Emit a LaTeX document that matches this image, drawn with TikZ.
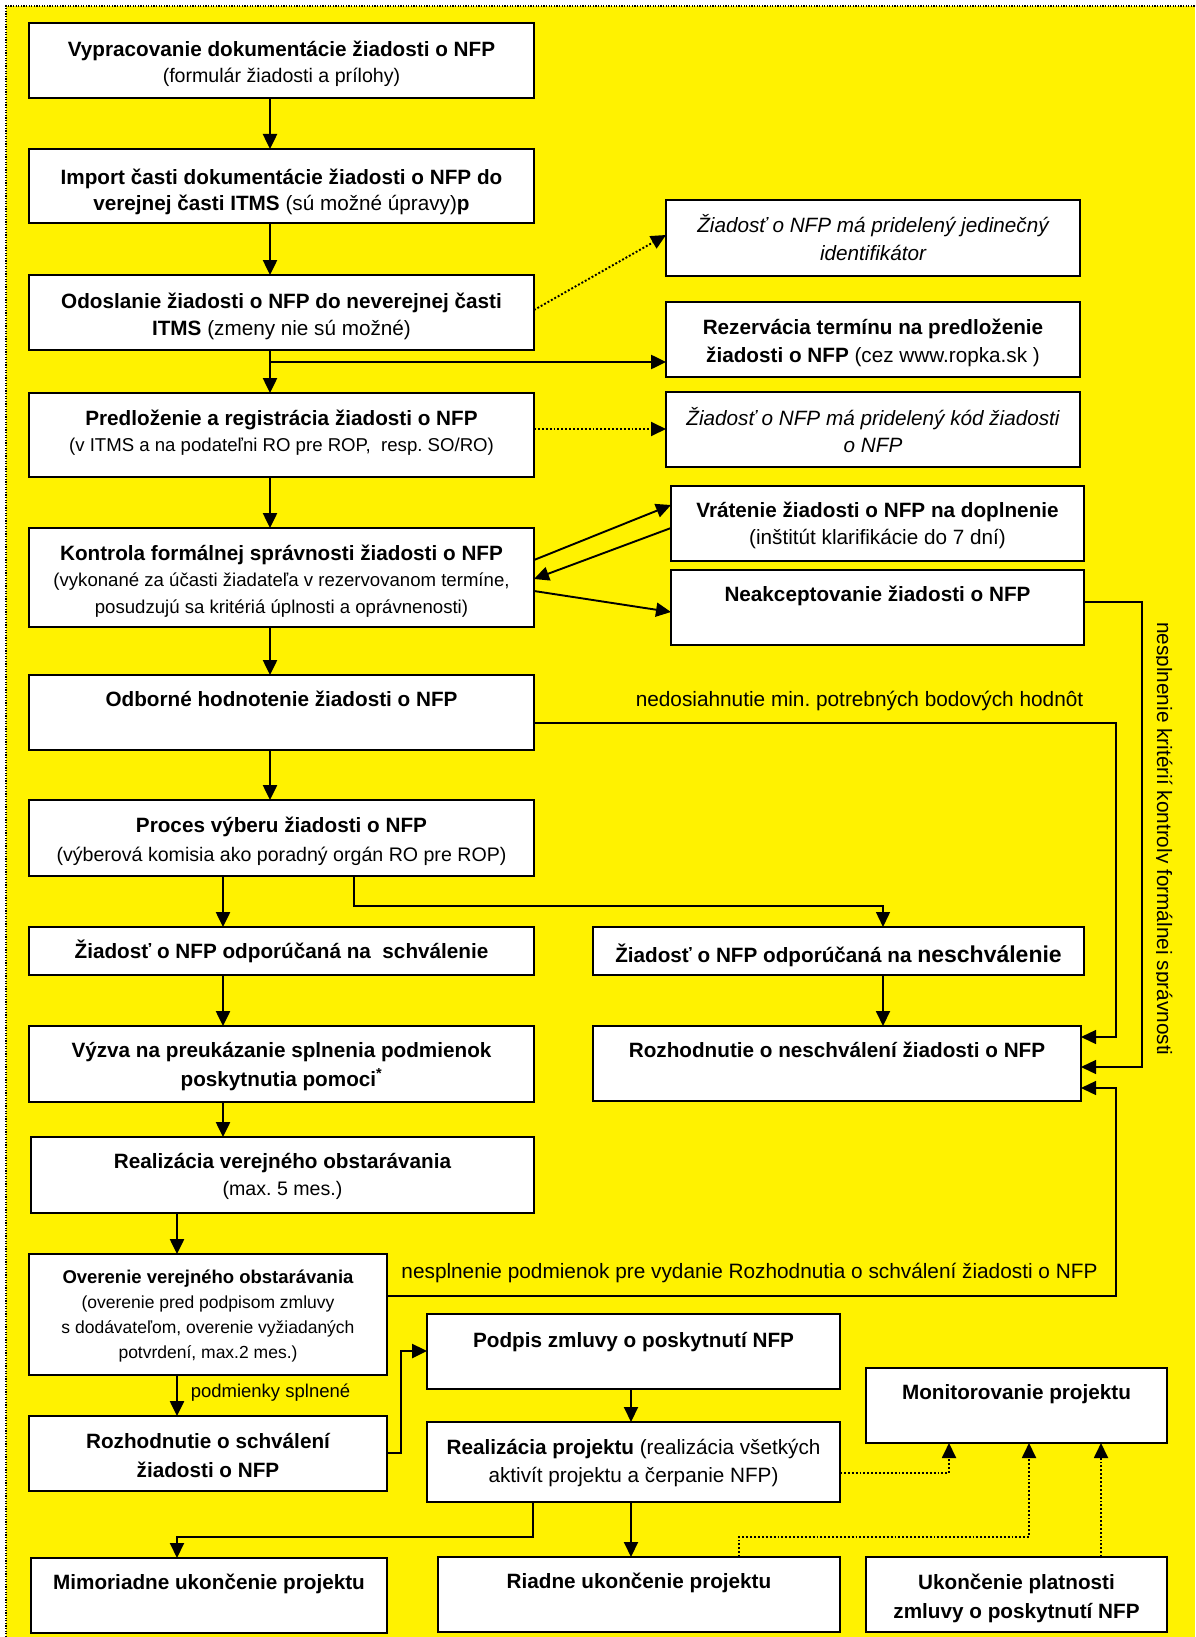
\documentclass[tikz,border=0pt]{standalone}
\usepackage{fontspec}
\setmainfont{Liberation Sans}
\usetikzlibrary{arrows.meta}
\frenchspacing
\newcommand\sz[2]{\fontsize{#1}{#2}\selectfont}
\newcommand\bx[7]{\node[bxs] (#1) at ({(#2+#4)/2},{(#3+#5)/2}) {\parbox[c][\dimexpr#5pt-#3pt\relax][t]{\dimexpr#4pt-#2pt\relax}{\vspace*{\dimexpr#6pt-19.25pt\relax}\centering\strut #7\par}};}
\begin{document}
\begin{tikzpicture}[x=1pt,y=-1pt,
  bxs/.style={draw, line width=1.8pt, fill=white, inner sep=0pt, outer sep=0pt, font=\sz{20.7}{27.5}},
  ar/.style={line width=2.5pt, -{Triangle[length=15pt,width=14pt]}},
  md/.style={line width=1.9pt, -{Triangle[length=15pt,width=14pt]}},
  ln/.style={line width=1.4pt, -{Triangle[length=15pt,width=14pt]}},
  dt/.style={line width=1.9pt, dotted, -{Triangle[length=15pt,width=14pt]}},
  lbl/.style={inner sep=0pt, outer sep=0pt, font=\sz{20.8}{25}}]
\useasboundingbox (0,0) rectangle (1195,1637);
\fill[white] (0,0) rectangle (1195,1637);
\fill[yellow] (6,6) rectangle (1195,1637);
\draw[line width=1.3pt, dash pattern=on 1.3pt off 1.3pt] (6,1637) -- (6,6) -- (1195,6);

\coordinate (xA) at (270,0);
\coordinate (xB) at (223,0);
\coordinate (xC) at (177,0);

% left column
\bx{b1}{29}{23}{534}{98}{34}{\sz{20.7}{26}\bfseries Vypracovanie dokumentácie žiadosti o NFP\\ \mdseries\sz{19.6}{26}(formulár žiadosti a prílohy)}
\bx{b2}{29}{149}{534}{223}{36}{\sz{20.7}{26}\bfseries Import časti dokumentácie žiadosti o NFP do\\ verejnej časti ITMS {\mdseries (sú možné úpravy)}p}
\bx{b3}{29}{275}{534}{350}{33}{\sz{20.7}{27}\bfseries Odoslanie žiadosti o NFP do neverejnej časti\\ ITMS {\mdseries (zmeny nie sú možné)}}
\bx{b4}{29}{393}{534}{477}{32}{\sz{20.7}{26}\bfseries Predloženie a registrácia žiadosti o NFP\\ \mdseries\sz{18.6}{26}(v ITMS a na podateľni RO pre ROP,~ resp. SO/RO)}
\bx{b5}{29}{528}{534}{627}{32}{\sz{20.7}{26.5}\bfseries Kontrola formálnej správnosti žiadosti o NFP\\ \mdseries\sz{18.6}{26.5}(vykonané za účasti žiadateľa v rezervovanom termíne,\\ posudzujú sa kritériá úplnosti a oprávnenosti)}
\bx{b6}{29}{675}{534}{750}{31}{\bfseries Odborné hodnotenie žiadosti o NFP}
\bx{b7}{29}{800}{534}{876}{32}{\sz{20.7}{29}\bfseries Proces výberu žiadosti o NFP\\ \mdseries\sz{19.6}{29}(výberová komisia ako poradný orgán RO pre ROP)}
\bx{b8}{29}{927}{534}{975}{31}{\bfseries Žiadosť o NFP odporúčaná na~ schválenie}
\bx{b9}{29}{1026}{534}{1102}{31}{\sz{20.7}{29}\bfseries Výzva na preukázanie splnenia podmienok\\ poskytnutia pomoci\textsuperscript{*}}
\bx{b10}{31}{1137}{534}{1213}{31}{\sz{20.7}{27}\bfseries Realizácia verejného obstarávania\\ \mdseries\sz{19.6}{27}(max. 5 mes.)}
\bx{b11}{29}{1254}{387}{1375}{29}{\sz{18.5}{25}\bfseries Overenie verejného obstarávania\\ \mdseries\sz{17.5}{25}(overenie pred podpisom zmluvy\\ s dodávateľom, overenie vyžiadaných\\ potvrdení, max.2 mes.)}
\bx{b12}{29}{1416}{387}{1491}{32}{\sz{20.7}{29}\bfseries Rozhodnutie o schválení\\ žiadosti o NFP}
\bx{b13}{31}{1558}{387}{1633}{31}{\bfseries Mimoriadne ukončenie projektu}

% right column
\bx{r1}{666}{200}{1080}{276}{32}{\sz{20.7}{28.3}\itshape Žiadosť o NFP má pridelený jedinečný\\ identifikátor}
\bx{r2}{666}{302}{1080}{377}{32}{\sz{20.7}{28.7}\bfseries Rezervácia termínu na predloženie\\ žiadosti o NFP {\mdseries (cez www.ropka.sk )}}
\bx{r3}{666}{392}{1080}{467}{33}{\sz{20.7}{27.7}\itshape Žiadosť o NFP má pridelený kód žiadosti\\ o NFP}
\bx{r4}{671}{486}{1084}{561}{31}{\sz{20.7}{27}\bfseries Vrátenie žiadosti o NFP na doplnenie\\ \mdseries (inštitút klarifikácie do 7 dní)}
\bx{r5}{671}{570}{1084}{645}{31}{\bfseries Neakceptovanie žiadosti o NFP}
\bx{r6}{593}{927}{1084}{975}{35}{\bfseries Žiadosť o NFP odporúčaná na {\sz{23}{27.5}neschválenie}}
\bx{r7}{593}{1026}{1081}{1101}{31}{\bfseries Rozhodnutie o neschválení žiadosti o NFP}

% bottom
\bx{p1}{427}{1314}{840}{1389}{33}{\bfseries Podpis zmluvy o poskytnutí NFP}
\bx{p2}{427}{1422}{840}{1502}{32}{\sz{20.7}{28.7}{\bfseries Realizácia projektu} (realizácia všetkých\\ aktivít projektu a čerpanie NFP)}
\bx{p3}{438}{1557}{840}{1632}{31}{\bfseries Riadne ukončenie projektu}
\bx{m1}{866}{1368}{1167}{1443}{31}{\bfseries Monitorovanie projektu}
\bx{m2}{866}{1557}{1167}{1632}{32}{\sz{20.7}{29}\bfseries Ukončenie platnosti\\ zmluvy o poskytnutí NFP}

% labels
\node[lbl, anchor=base] (l1) at (859.5,706) {nedosiahnutie min. potrebných bodových hodnôt};
\node[lbl, anchor=base] (l3) at (749.5,1278) {nesplnenie podmienok pre vydanie Rozhodnutia o schválení žiadosti o NFP};
\node[lbl, font=\sz{18.5}{22}, anchor=base] (l4) at (270.5,1397) {podmienky splnené};
\begin{scope}
\clip (1156.5,600) rectangle (1195,1080);
\node[lbl, rotate=-90, anchor=base west] (l2) at (1157,622) {nesplnenie kritérií kontroly formálnej správnosti};
\end{scope}

% main column arrows
\draw[ar] (b1.south -| xA) -- (b2.north -| xA);
\draw[ar] (b2.south -| xA) -- (b3.north -| xA);
\draw[ar] (b3.south -| xA) -- (b4.north -| xA);
\draw[ar] (b4.south -| xA) -- (b5.north -| xA);
\draw[ar] (b5.south -| xA) -- (b6.north -| xA);
\draw[ar] (b6.south -| xA) -- (b7.north -| xA);
\draw[ar] (b7.south -| xB) -- (b8.north -| xB);
\draw[ar] (b8.south -| xB) -- (b9.north -| xB);
\draw[ar] (b9.south -| xB) -- (b10.north -| xB);
\draw[ar] (b10.south -| xC) -- (b11.north -| xC);
\draw[ar] (b11.south -| xC) -- (b12.north -| xC);

% side connectors
\draw[ar] ([yshift=-60pt,xshift=-396pt]r2.north west) -- ([yshift=-60pt]r2.north west);
\draw[dt] ([yshift=-35pt]b3.north east) -- ([yshift=-35pt]r1.north west);
\draw[dt] ([yshift=-36pt]b4.north east) -- ([yshift=-37pt]r3.north west);
\draw[md] ([yshift=-32pt]b5.north east) -- ([yshift=-19pt]r4.north west);
\draw[md] ([yshift=-42pt]r4.north west) -- ([yshift=-51pt]b5.north east);
\draw[md] ([yshift=-63pt]b5.north east) -- ([yshift=-42pt]r5.north west);

\draw[ln] ([xshift=325pt]b7.south west) -- ++(0,30) -| ([xshift=290pt]r6.north west);
\draw[md] ([xshift=290pt]r6.south west) -- ([xshift=290pt]r7.north west);
\draw[ln] ([yshift=-48pt]b6.north east) -| ([xshift=35pt,yshift=-11pt]r7.north east) -- ([yshift=-11pt]r7.north east);
\draw[ln] ([yshift=-32pt]r5.north east) -| ([xshift=61pt,yshift=-41pt]r7.north east) -- ([yshift=-41pt]r7.north east);
\draw[ln] ([yshift=-42pt]b11.north east) -| ([xshift=35pt,yshift=-62pt]r7.north east) -- ([yshift=-62pt]r7.north east);

\draw[ar] ([yshift=-37pt]b12.north east) -- ++(14,0) |- ([yshift=-37pt]p1.north west);
\draw[md] ([xshift=204pt]p1.south west) -- ([xshift=204pt]p2.north west);
\draw[md] ([xshift=204pt]p2.south west) -- ([xshift=193pt]p3.north west);
\draw[md] ([xshift=106pt]p2.south west) -- ++(0,35) -| (b13.north -| xC);

\draw[dt] ([yshift=-51pt]p2.north east) -| ([xshift=83pt]m1.south west);
\draw[dt] ([xshift=301pt]p3.north west) -- ++(0,-20) -| ([xshift=163pt]m1.south west);
\draw[dt] ([xshift=235pt]m2.north west) -- ([xshift=235pt]m1.south west);
\end{tikzpicture}
\end{document}
